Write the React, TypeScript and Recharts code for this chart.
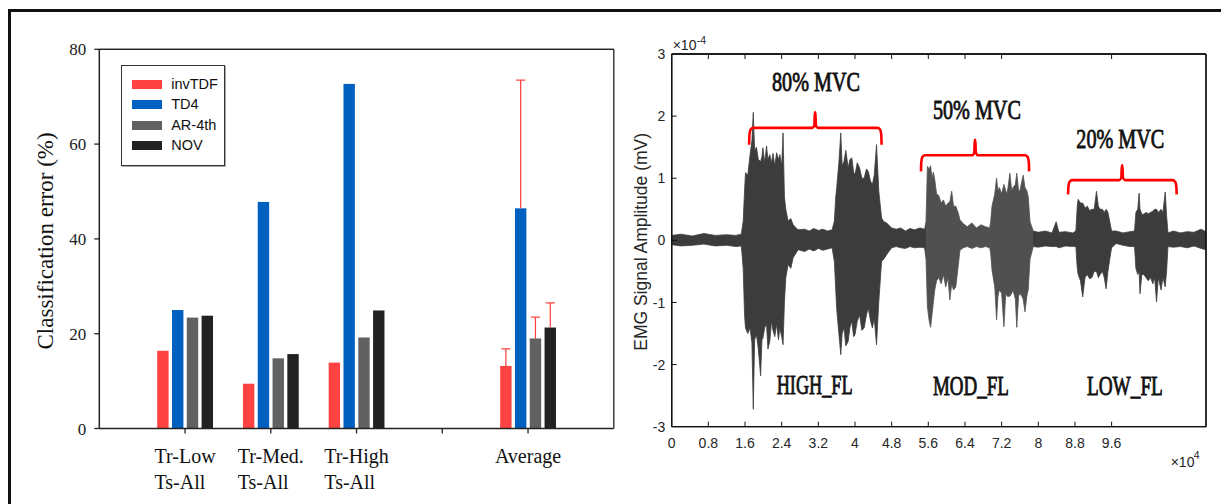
import React from 'react';
import {
  BarChart, Bar, XAxis, YAxis, Legend, ComposedChart, Area, Line, ReferenceDot, ReferenceLine,
} from 'recharts';

// ---------------- Left chart data ----------------
const categoryKeys = ['Tr-Low', 'Tr-Med.', 'Tr-High', 'gap', 'Average'];
const categoryLine1 = ['Tr-Low', 'Tr-Med.', 'Tr-High', '', 'Average'];
const categoryLine2 = ['Ts-All', 'Ts-All', 'Ts-All', '', ''];
const invTDF = [16.4, 9.45, 13.9, null, 13.2];
const td4 = [25.0, 47.8, 72.7, null, 46.45];
const ar4th = [23.4, 14.8, 19.2, null, 19.0];
const nov = [23.8, 15.7, 24.9, null, 21.3];
const invTDFErrTop = [null, null, null, null, 16.8];
const td4ErrTop = [null, null, null, null, 73.5];
const ar4thErrTop = [null, null, null, null, 23.5];
const novErrTop = [null, null, null, null, 26.5];
const leftYTicks = [0, 20, 40, 60, 80];
const seriesNames = ['invTDF', 'TD4', 'AR-4th', 'NOV'];
const seriesKeys = ['invTDF', 'TD4', 'AR4th', 'NOV'];
const seriesColors = ['#FF4343', '#0060C0', '#616161', '#222222'];

// ---------------- Right chart data (x in 1e4 samples, y in 1e-4 mV) ----------------
const emgX = [
  0, 0.2, 0.45, 0.7, 0.95, 1.2, 1.4, 1.52,
  1.56, 1.59, 1.61, 1.66, 1.71, 1.75, 1.78, 1.81, 1.85, 1.89, 1.94, 1.97, 1.99, 2.03, 2.07, 2.1, 2.14, 2.18, 2.21, 2.25, 2.29, 2.33, 2.36, 2.4, 2.43, 2.46, 2.49, 2.54, 2.6, 2.65, 2.72, 2.76,
  2.9, 3.0, 3.1, 3.2, 3.3, 3.4, 3.5,
  3.55, 3.58, 3.6, 3.65, 3.69, 3.72, 3.76, 3.8, 3.85, 3.89, 3.93, 3.97, 4.0, 4.05, 4.1, 4.15, 4.2, 4.25, 4.29, 4.34, 4.38, 4.42, 4.47, 4.52, 4.58, 4.63, 4.69,
  4.8, 4.9, 5.0, 5.1, 5.2, 5.3, 5.42, 5.52,
  5.55, 5.58, 5.62, 5.65, 5.68, 5.71, 5.74, 5.78, 5.83, 5.88, 5.93, 5.98, 6.03, 6.07, 6.11, 6.15, 6.2, 6.25, 6.29,
  6.36, 6.45, 6.55, 6.65, 6.75, 6.85, 6.94,
  6.96, 6.99, 7.05, 7.09, 7.12, 7.15, 7.2, 7.25, 7.29, 7.32, 7.38, 7.42, 7.45, 7.5, 7.53, 7.57, 7.6, 7.64, 7.67, 7.71, 7.75, 7.78, 7.82, 7.89,
  8.0, 8.15, 8.3, 8.39, 8.45, 8.6, 8.75,
  8.82, 8.85, 8.87, 8.92, 8.97, 9.02, 9.07, 9.12, 9.17, 9.22, 9.27, 9.31, 9.35, 9.4, 9.44, 9.48, 9.52, 9.56, 9.6,
  9.7, 9.85, 10.0, 10.1,
  10.13, 10.17, 10.2, 10.22, 10.26, 10.3, 10.35, 10.4, 10.45, 10.5, 10.54, 10.58, 10.62, 10.68, 10.72, 10.77, 10.8, 10.83,
  10.95, 11.1, 11.25, 11.4, 11.55, 11.66,
];
const emgHi = [
  0.08, 0.1, 0.07, 0.11, 0.08, 0.09, 0.08, 0.1,
  0.31, 0.8, 1.09, 1.05, 1.38, 1.6, 2.06, 1.45, 1.5, 1.3, 1.27, 1.35, 1.49, 1.25, 1.52, 1.3, 1.38, 1.25, 1.4, 1.2, 1.41, 1.3, 1.38, 1.2, 1.73, 0.7, 0.5, 0.31, 0.35, 0.25, 0.2, 0.17,
  0.18, 0.15, 0.19, 0.16, 0.18, 0.15, 0.17,
  0.31, 0.7, 0.84, 1.27, 1.73, 1.2, 1.27, 1.45, 1.17, 1.3, 1.33, 1.1, 1.06, 1.25, 1.17, 1.0, 1.0, 1.15, 1.11, 0.95, 0.9, 1.05, 1.54, 0.79, 0.36, 0.3, 0.28,
  0.2, 0.18, 0.2, 0.15, 0.19, 0.17, 0.2, 0.18,
  0.3, 1.19, 1.15, 1.2, 1.0, 1.1, 0.98, 0.75, 0.72, 0.6, 0.65, 0.55, 0.6, 0.62, 0.79, 0.55, 0.55, 0.45, 0.33,
  0.27, 0.22, 0.28, 0.2, 0.25, 0.22, 0.2,
  0.3, 0.55, 0.75, 1.0, 0.8, 0.85, 0.75, 0.9, 0.8, 0.75, 1.08, 0.8, 0.85, 0.9, 1.08, 0.8, 0.8, 0.95, 1.05, 0.85, 0.8, 0.7, 0.3, 0.15,
  0.13, 0.15, 0.12, 0.3, 0.13, 0.14, 0.12,
  0.15, 0.55, 0.66, 0.6, 0.6, 0.52, 0.55, 0.48, 0.5, 0.5, 0.79, 0.55, 0.5, 0.5, 0.45, 0.5, 0.45, 0.3, 0.15,
  0.15, 0.12, 0.14, 0.15,
  0.45, 0.5, 0.76, 0.5, 0.42, 0.42, 0.45, 0.43, 0.45, 0.47, 0.5, 0.5, 0.45, 0.5, 0.45, 0.78, 0.4, 0.12,
  0.15, 0.12, 0.14, 0.13, 0.18, 0.14,
];
const emgLo = [
  -0.07, -0.09, -0.08, -0.06, -0.09, -0.08, -0.1, -0.09,
  -0.45, -1.2, -1.41, -1.5, -1.41, -1.65, -2.72, -1.6, -1.52, -1.75, -2.18, -1.6, -1.58, -1.4, -1.36, -1.75, -1.63, -1.3, -1.45, -1.55, -1.35, -1.6, -1.41, -1.55, -1.68, -1.0, -0.6, -0.39, -0.45, -0.28, -0.2, -0.15,
  -0.18, -0.14, -0.17, -0.13, -0.16, -0.14, -0.12,
  -0.34, -0.8, -1.1, -1.52, -1.84, -1.5, -1.41, -1.7, -1.63, -1.4, -1.3, -1.55, -1.52, -1.3, -1.2, -1.45, -1.41, -1.2, -1.09, -1.3, -1.41, -1.25, -1.68, -0.98, -0.34, -0.3, -0.23,
  -0.12, -0.1, -0.12, -0.13, -0.1, -0.12, -0.11, -0.12,
  -0.3, -1.07, -1.3, -1.4, -1.2, -1.0, -0.8, -0.65, -0.6, -0.7, -0.55, -0.75, -0.6, -0.96, -0.7, -0.8, -0.75, -0.43, -0.16,
  -0.12, -0.1, -0.13, -0.1, -0.12, -0.1, -0.12,
  -0.2, -0.48, -0.75, -1.28, -0.9, -0.8, -0.85, -1.39, -0.85, -0.9, -0.9, -0.85, -0.8, -0.95, -1.4, -0.9, -0.85, -0.9, -0.95, -1.15, -0.9, -0.8, -0.3, -0.1,
  -0.11, -0.09, -0.1, -0.1, -0.12, -0.09, -0.1,
  -0.1, -0.45, -0.55, -0.65, -0.91, -0.6, -0.55, -0.62, -0.6, -0.5, -0.5, -0.6, -0.55, -0.5, -0.6, -0.78, -0.5, -0.3, -0.12,
  -0.05, -0.08, -0.1, -0.1,
  -0.45, -0.55, -0.5, -0.86, -0.55, -0.55, -0.6, -0.65, -0.6, -0.7, -0.6, -0.99, -0.6, -0.8, -0.6, -0.75, -0.5, -0.1,
  -0.11, -0.1, -0.12, -0.09, -0.13, -0.15,
];
const rightXTicks = [0, 0.8, 1.6, 2.4, 3.2, 4, 4.8, 5.6, 6.4, 7.2, 8, 8.8, 9.6];
const rightTopTicks = [0.8, 1.6, 2.4, 3.2, 4, 4.8, 5.6, 6.4, 7.2, 9.6];
const rightYTicks = [-3, -2, -1, 0, 1, 2, 3];
const rightFrameYTicks = [-2, -1, 0, 1, 2];
const modRange = [5.55, 7.89];

// braces: left end, middle, right end, bottom of hooks, bar level, peak
const braceX1 = [1.69, 5.44, 8.65];
const braceXm = [3.13, 6.62, 9.83];
const braceX2 = [4.58, 7.80, 11.02];
const braceYBottom = [1.54, 1.11, 0.74];
const braceYTop = [1.81, 1.37, 0.97];
const braceYPeak = [2.06, 1.62, 1.21];

// annotations
const annoText = ['80% MVC', '50% MVC', '20% MVC', 'HIGH_FL', 'MOD_FL', 'LOW_FL'];
const annoX = [3.15, 6.66, 9.79, 3.12, 6.53, 9.89];
const annoY = [2.40, 1.958, 1.49, -2.473, -2.49, -2.49];

// ---------------- Derived tables ----------------
const barData = categoryKeys.map((k, i) => ({
  key: k,
  invTDF: invTDF[i], TD4: td4[i], AR4th: ar4th[i], NOV: nov[i],
  invTDFErr: invTDFErrTop[i], TD4Err: td4ErrTop[i], AR4thErr: ar4thErrTop[i], NOVErr: novErrTop[i],
}));

const X_MAX = 11.66;
const emgData = emgX.map((x, i) => ({ x, band: [emgLo[i], emgHi[i]] }));

const braceData = braceX1.map((x1, i) => {
  const xm = braceXm[i], x2 = braceX2[i];
  const yb = braceYBottom[i], yt = braceYTop[i], yp = braceYPeak[i];
  return [
    { x: x1, y: yb }, { x: x1 + 0.006, y: yt - 0.12 }, { x: x1 + 0.03, y: yt - 0.03 }, { x: x1 + 0.09, y: yt },
    { x: xm - 0.06, y: yt }, { x: xm - 0.018, y: yt + 0.04 }, { x: xm - 0.006, y: yp }, { x: xm + 0.006, y: yp },
    { x: xm + 0.018, y: yt + 0.04 }, { x: xm + 0.06, y: yt },
    { x: x2 - 0.09, y: yt }, { x: x2 - 0.03, y: yt - 0.03 }, { x: x2 - 0.006, y: yt - 0.12 }, { x: x2, y: yb },
  ];
});

// ---------------- helpers ----------------
let measureCtx: any = null;
const measureText = (text: string, font: string) => {
  if (!measureCtx) measureCtx = document.createElement('canvas').getContext('2d');
  measureCtx.font = font;
  return measureCtx.measureText(text).width;
};

const SERIF = '"Liberation Serif", "Times New Roman", serif';
const SANS = '"Liberation Sans", Arial, sans-serif';
const NO_TICKLINE = { stroke: 'none' };

const makeBarShape = (valKey: string, errKey: string) => (props: any) => {
  const { x, y, width, height, fill, payload } = props;
  if (height == null || isNaN(height)) return null;
  const v = payload[valKey];
  const e = payload[errKey];
  let err = null;
  if (e != null && v) {
    const ppu = height / v;
    const base = y + height;
    const ey = base - e * ppu;
    const cx = x + width / 2;
    err = (
      <g stroke="#FF3A3A" strokeWidth={1.2}>
        <line x1={cx} y1={y} x2={cx} y2={ey} />
        <line x1={cx - 4.5} y1={ey} x2={cx + 4.5} y2={ey} />
      </g>
    );
  }
  return (
    <g>
      <rect x={x} y={y} width={width} height={height} fill={fill} />
      {err}
    </g>
  );
};

const CategoryTick = (props: any) => {
  const { x, y, payload } = props;
  const idx = categoryKeys.indexOf(payload.value);
  const l1 = categoryLine1[idx] || '';
  const l2 = categoryLine2[idx] || '';
  const font = `20px ${SERIF}`;
  const w = l1 ? measureText(l1, font) : 0;
  return (
    <g fontFamily={SERIF} fontSize={20} fill="#111">
      {l1 && <text x={x} y={y + 29.8} textAnchor="middle">{l1}</text>}
      {l2 && <text x={x - w / 2} y={y + 55.8} textAnchor="start">{l2}</text>}
    </g>
  );
};

const LegendBox = () => (
  <div style={{
    width: 104.3, height: 100.7, border: '1.5px solid #333', boxSizing: 'border-box',
    position: 'relative', background: '#fff', boxShadow: '1px 1px 0 #aaa',
  }}>
    {seriesNames.map((n, i) => (
      <div key={n} style={{
        position: 'absolute', left: 10.1, top: 9.7 + i * 20.4, height: 17,
        display: 'flex', alignItems: 'center',
      }}>
        <div style={{ width: 30, height: 9, background: seriesColors[i] }} />
        <span style={{ marginLeft: 9.4, fontFamily: SANS, fontSize: 14.5, lineHeight: '17px', color: '#111' }}>{n}</span>
      </div>
    ))}
  </div>
);

// right chart ticks
const RightLeftTick = (props: any) => {
  const { x, y, payload } = props;
  const inner = payload.value !== 3 && payload.value !== -3;
  return (
    <g>
      {inner && <line x1={x} y1={y} x2={x + 5} y2={y} stroke="#111" strokeWidth={1} />}
      <text x={x - 6.5} y={y} dy="0.36em" textAnchor="end" fontFamily={SANS} fontSize={14} fill="#262626">{String(payload.value)}</text>
    </g>
  );
};
const RightBottomTick = (props: any) => {
  const { x, y, payload } = props;
  const inner = payload.value !== 0;
  return (
    <g>
      {inner && <line x1={x} y1={y} x2={x} y2={y - 5} stroke="#111" strokeWidth={1} />}
      <text x={x} y={y + 21.6} textAnchor="middle" fontFamily={SANS} fontSize={14} fill="#262626">{String(payload.value)}</text>
    </g>
  );
};
const RightTopTick = (props: any) => {
  const { x, y } = props;
  return <line x1={x} y1={y} x2={x} y2={y + 5} stroke="#111" strokeWidth={1} />;
};
const RightRightTick = (props: any) => {
  const { x, y } = props;
  return <line x1={x} y1={y} x2={x - 5} y2={y} stroke="#111" strokeWidth={1} />;
};

const annoShape = (i: number) => (props: any) => {
  const { cx, cy } = props;
  const t = annoText[i];
  const natural = measureText(t, `27px ${SERIF}`);
  const target = i < 3 ? 88 : 76;
  return (
    <text
      x={cx} y={cy} textAnchor="middle" fontFamily={SERIF} fontSize={27} fill="#111"
      stroke="#111" strokeWidth={0.85}
      textLength={Math.min(natural, target)} lengthAdjust="spacingAndGlyphs"
    >{t}</text>
  );
};

export default function App() {
  return (
    <div style={{ position: 'absolute', left: 0, top: 0, width: 1221, height: 504, background: '#fff', overflow: 'hidden' }}>
      <div style={{
        position: 'absolute', left: 8, top: 9, width: 1213, height: 495,
        borderTop: '3px solid #111', borderLeft: '3px solid #111', boxSizing: 'border-box',
      }} />

      {/* Left: bar chart */}
      <div style={{ position: 'absolute', left: 0, top: 0 }}>
        <BarChart
          width={620} height={504} data={barData}
          margin={{ top: 48.3, left: 39.3, right: 5.2, bottom: 15.5 }}
          barSize={11.4} barGap={3.4}
        >
          <XAxis
            dataKey="key" type="category" height={60}
            padding={{ left: 42.9, right: 42.9 }}
            axisLine={{ stroke: '#222', strokeWidth: 1.5 }}
            tickLine={{ stroke: '#222', strokeWidth: 1.3 }} tickSize={5} tickMargin={0}
            interval={0} tick={<CategoryTick />}
          />
          <XAxis
            xAxisId="top" dataKey="key" type="category" orientation="top" height={1}
            padding={{ left: 42.9, right: 42.9 }}
            axisLine={{ stroke: '#222', strokeWidth: 1.3 }} tick={false} tickLine={NO_TICKLINE}
          />
          <YAxis
            type="number" domain={[0, 80]} ticks={leftYTicks} width={60} interval={0}
            axisLine={{ stroke: '#222', strokeWidth: 1.5 }}
            tickLine={{ stroke: '#222', strokeWidth: 1.3 }} tickSize={5} tickMargin={8}
            tick={{ fontFamily: SERIF, fontSize: 17, fill: '#222' }}
            label={(p: any) => {
              const vb = p.viewBox || { x: 39.3, y: 49.3, width: 60, height: 379.2 };
              const cx = vb.x + 6.2;
              const cy = vb.y + vb.height / 2 + 2;
              return (
                <text
                  transform={`translate(${cx},${cy}) rotate(-90)`} textAnchor="middle"
                  dominantBaseline="central" fontFamily={SERIF} fontSize={23} fill="#111"
                >Classification error (%)</text>
              );
            }}
          />
          <YAxis
            yAxisId="r" orientation="right" type="number" domain={[0, 80]} width={1}
            axisLine={{ stroke: '#222', strokeWidth: 1.3 }} tick={false} tickLine={NO_TICKLINE}
          />
          <ReferenceLine y={80} stroke="#222" strokeWidth={1.3} />
          <Legend
            layout="vertical" align="center" verticalAlign="middle"
            wrapperStyle={{ position: 'absolute', left: 120.7, top: 65, width: 104.3, height: 100.7, margin: 0 }}
            content={() => <LegendBox />}
          />
          {seriesKeys.map((k, i) => (
            <Bar
              key={k} dataKey={k} name={seriesNames[i]} fill={seriesColors[i]}
              isAnimationActive={false} shape={makeBarShape(k, k + 'Err')}
            />
          ))}
        </BarChart>
      </div>

      {/* Right: EMG signal */}
      <div style={{ position: 'absolute', left: 620, top: 0 }}>
        <ComposedChart
          width={601} height={504} data={emgData}
          margin={{ top: 53, left: 11.7, right: 14, bottom: 37.3 }}
        >
          <defs>
            <linearGradient id="emgFill" x1="0" y1="0" x2="1" y2="0">
              <stop offset="0" stopColor="#3c3c3c" />
              <stop offset={modRange[0] / X_MAX} stopColor="#3c3c3c" />
              <stop offset={modRange[0] / X_MAX} stopColor="#505050" />
              <stop offset={modRange[1] / X_MAX} stopColor="#505050" />
              <stop offset={modRange[1] / X_MAX} stopColor="#3c3c3c" />
              <stop offset="1" stopColor="#3c3c3c" />
            </linearGradient>
          </defs>
          <XAxis
            dataKey="x" type="number" domain={[0, X_MAX]} allowDataOverflow ticks={rightXTicks}
            height={40} interval={0} tickSize={0} tickMargin={0} tickLine={NO_TICKLINE}
            axisLine={{ stroke: '#111', strokeWidth: 1.3 }} tick={<RightBottomTick />}
            label={(p: any) => {
              const vb = p.viewBox || { x: 51.7, y: 426.7, width: 534.3, height: 40 };
              const x0 = vb.x + vb.width - 35.3;
              const yb = vb.y + 40;
              return (
                <g fontFamily={SANS} fill="#262626">
                  <text x={x0} y={yb} fontSize={14}>×10</text>
                  <text x={x0 + 23} y={yb - 8} fontSize={10.5}>4</text>
                </g>
              );
            }}
          />
          <XAxis
            xAxisId="top" dataKey="x" type="number" orientation="top" domain={[0, X_MAX]} allowDataOverflow
            ticks={rightTopTicks} height={1} interval={0} tickSize={0} tickMargin={0} tickLine={NO_TICKLINE}
            axisLine={{ stroke: '#111', strokeWidth: 1.3 }} tick={<RightTopTick />}
          />
          <YAxis
            type="number" domain={[-3, 3]} ticks={rightYTicks} width={40} interval={0}
            allowDataOverflow tickSize={0} tickMargin={0} tickLine={NO_TICKLINE}
            axisLine={{ stroke: '#111', strokeWidth: 1.3 }} tick={<RightLeftTick />}
            label={(p: any) => {
              const vb = p.viewBox || { x: 11.7, y: 54, width: 40, height: 372.7 };
              const ax = vb.x + vb.width;
              const cy = vb.y + vb.height / 2 + 1.5;
              return (
                <g>
                  <text
                    transform={`translate(${ax - 30.7},${cy}) rotate(-90)`} textAnchor="middle"
                    dominantBaseline="central" fontFamily={SANS} fontSize={17.5} fill="#262626"
                  >EMG Signal Amplitude (mV)</text>
                  <text x={ax + 1} y={vb.y - 4} fontFamily={SANS} fontSize={14} fill="#262626">×10</text>
                  <text x={ax + 25} y={vb.y - 10} fontFamily={SANS} fontSize={10.5} fill="#262626">-4</text>
                </g>
              );
            }}
          />
          <YAxis
            yAxisId="r" orientation="right" type="number" domain={[-3, 3]} ticks={rightFrameYTicks}
            width={1} interval={0} tickSize={0} tickMargin={0} tickLine={NO_TICKLINE}
            axisLine={{ stroke: '#111', strokeWidth: 1.3 }} tick={<RightRightTick />}
          />
          <ReferenceLine x={0} stroke="#111" strokeWidth={1.3} />
          <ReferenceLine x={X_MAX} stroke="#111" strokeWidth={1.3} />
          <ReferenceLine y={3} stroke="#111" strokeWidth={1.3} />
          <ReferenceLine y={-3} stroke="#111" strokeWidth={1.3} />
          <Area
            dataKey="band" type="linear" fill="url(#emgFill)" fillOpacity={1}
            stroke="url(#emgFill)" strokeWidth={0.8} isAnimationActive={false} dot={false} activeDot={false}
          />
          {braceData.map((pts, i) => (
            <Line
              key={'brace' + i} data={pts} dataKey="y" type="monotone" stroke="#FF0000" strokeWidth={2.6}
              dot={false} activeDot={false} isAnimationActive={false}
            />
          ))}
          {annoText.map((t, i) => (
            <ReferenceDot key={t} x={annoX[i]} y={annoY[i]} r={0} ifOverflow="visible" shape={annoShape(i)} />
          ))}
        </ComposedChart>
      </div>
    </div>
  );
}
